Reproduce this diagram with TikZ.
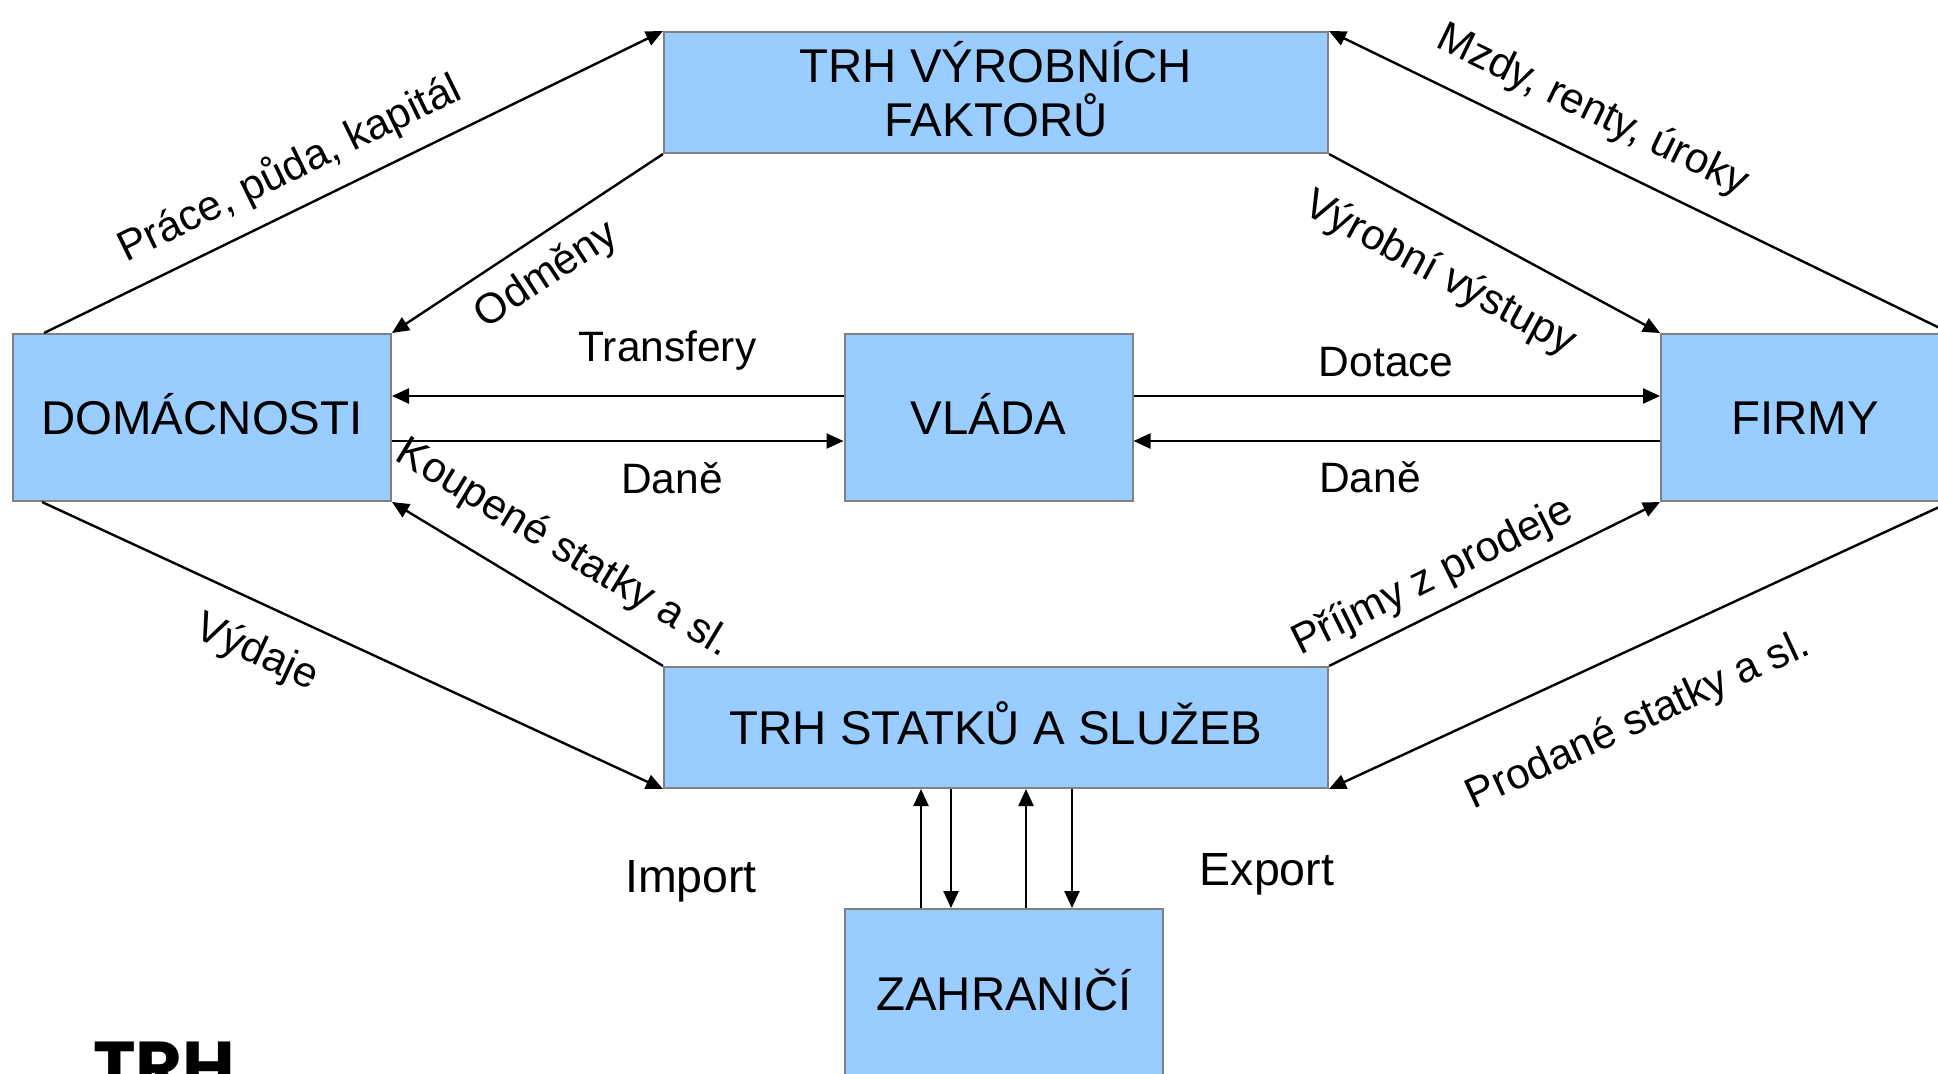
\documentclass[tikz,border=0pt]{standalone}
\usepackage{fontspec}
\setmainfont{Liberation Sans}
\newfontfamily\nadpisfont{Poppins}
\usetikzlibrary{arrows.meta}

\definecolor{sektorfill}{HTML}{99CCFF}
\definecolor{sektorline}{HTML}{808080}

\begin{document}
\begin{tikzpicture}[
            x = 0.5pt, y = -0.5pt,
            line width = 1.2pt,
            > = {Triangle[length = 8.5pt, width = 7.5pt]},
            sektor/.style = {
                draw = sektorline, fill = sektorfill,
                line width = 1pt,
                align = center, inner sep = 0pt,
                font = \fontsize{23.7pt}{27pt}\selectfont,
                text height = 17pt, text depth = 0pt,
            },
            tok/.style = {
                font = \fontsize{21.25pt}{25pt}\selectfont,
                inner sep = 0pt,
                text height = 17pt, text depth = 4.7pt,
            },
            popis/.style = {
                font = \fontsize{23.25pt}{27pt}\selectfont,
                inner sep = 0pt, anchor = base,
            },
        ]

        \useasboundingbox (0, 0) rectangle (1938, 1073);

        % Sektory
        \node[sektor, minimum width = 189pt, minimum height = 83.5pt] (dom) at (202, 417.5) {DOMÁCNOSTI};
        \node[sektor, minimum width = 332pt, minimum height = 60.5pt, text height = 44pt] (trhvf) at (996, 92.5) {TRH VÝROBNÍCH \\ FAKTORŮ};
        \node[sektor, minimum width = 144pt, minimum height = 83.5pt] (vlada) at (988.5, 417.5) {VLÁDA};
        \node[sektor, minimum width = 144pt, minimum height = 83.5pt] (firmy) at (1805, 417.5) {FIRMY};
        \node[sektor, minimum width = 332pt, minimum height = 60.5pt] (trhss) at (996, 727.5) {TRH STATKŮ A SLUŽEB};
        \node[sektor, minimum width = 159pt, minimum height = 84pt] (zahr) at (1004, 993) {ZAHRANIČÍ};

        % Popisky
        \node[popis] (import) at (691, 892) {Import};
        \node[popis] (export) at (1267, 885) {Export};
        \node[font = \nadpisfont\bfseries\fontsize{36pt}{40pt}\selectfont, inner sep = 0pt, anchor = base west] (nadpis) at (92, 1092) {TRH};

        % Toky mezi trhy
        \path
        [
            ->
        ]
            ([xshift = 16pt]dom.north west) edge node[tok, sloped, above = 8.2pt, pos = 0.425] {Práce, půda, kapitál} (trhvf.north west)
            (trhvf.south west) edge node[tok, sloped, below = 6.7pt, pos = 0.505] {Odměny} (dom.north east)
            (firmy.north east) edge node[tok, sloped, above = 10.7pt, pos = 0.606] {Mzdy, renty, úroky} (trhvf.north east)
            (trhvf.south east) edge node[tok, sloped, below = 14.7pt, pos = 0.41] {Výrobní výstupy} (firmy.north west)
            (trhss.north west) edge node[tok, sloped, above = 13.2pt, pos = 0.46] {Koupené statky a sl.} (dom.south east)
            ([xshift = 15pt]dom.south west) edge node[tok, sloped, below = 11.7pt, pos = 0.377] {Výdaje} (trhss.south west)
            (trhss.north east) edge node[tok, sloped, above = 5.7pt, pos = 0.358] {Příjmy z prodeje} (firmy.south west)
            (firmy.south east) edge node[tok, sloped, below = 22.2pt, pos = 0.548] {Prodané statky a sl.} (trhss.south east);

        % Toky přes vládu
        \path
        [
            ->
        ]
            ([yshift = 10.75pt]vlada.west) edge node[tok, above = 11.8pt, pos = 0.39] {Transfery} ([yshift = 10.75pt]dom.east)
            ([yshift = -11.75pt]dom.east) edge node[tok, below = 8.5pt, pos = 0.62] {Daně} ([yshift = -11.75pt]vlada.west)
            ([yshift = 10.75pt]vlada.east) edge node[tok, above = 4.3pt, pos = 0.48] {Dotace} ([yshift = 10.75pt]firmy.west)
            ([yshift = -11.75pt]firmy.west) edge node[tok, below = 8pt, pos = 0.551] {Daně} ([yshift = -11.75pt]vlada.east);

        % Zahraničí
        \foreach \dx in {-37.5pt, 15pt}
            \draw[<-] ([xshift = \dx]trhss.south) -- ([xshift = \dx]trhss.south |- zahr.north);
        \foreach \dx in {-22.5pt, 38pt}
            \draw[->] ([xshift = \dx]trhss.south) -- ([xshift = \dx]trhss.south |- zahr.north);

    \end{tikzpicture}
\end{document}
